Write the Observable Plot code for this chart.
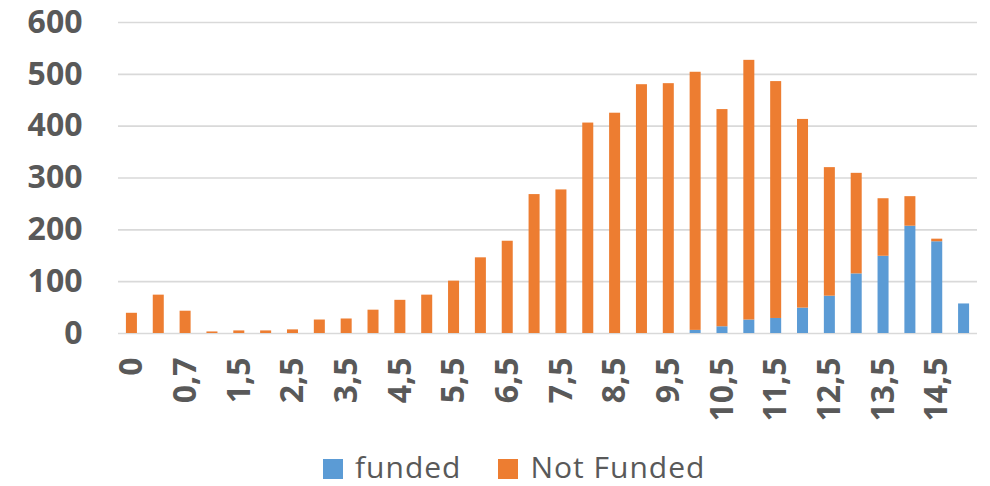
<!DOCTYPE html>
<html>
<head>
<meta charset="utf-8">
<script src="https://cdn.jsdelivr.net/npm/d3@7"></script>
<script src="https://cdn.jsdelivr.net/npm/@observablehq/plot@0.6"></script>
<style>
  html, body { margin: 0; padding: 0; background: #fff; }
  body { width: 990px; height: 486px; overflow: hidden; font-family: "Open Sans", sans-serif; }
  #legend { display: flex; align-items: center; margin-left: 323px; margin-top: 12px; font-size: 30px; letter-spacing: 1px; color: #595959; line-height: 1; }
  #legend .item { display: flex; align-items: center; margin-right: 37px; }
  #legend .sw { width: 20px; height: 20px; margin-right: 12px; margin-top: 4px; }
</style>
</head>
<body>
<div id="chart"></div>
<div id="legend"></div>
<script>
const categories = ["0","0,3","0,7","1","1,5","2","2,5","3","3,5","4","4,5","5","5,5","6","6,5","7","7,5","8","8,5","9","9,5","10","10,5","11","11,5","12","12,5","13","13,5","14","14,5","15"];
const funded = [0,0,0,0,0,0,0,0,0,0,0,0,0,0,0,0,0,0,0,0,0,6,13,26,29,49,72,115,149,207,177,57];
const notFunded = [39,74,43,3,5,5,7,26,28,45,64,74,101,146,178,268,277,406,425,480,482,498,419,501,457,364,248,194,111,57,5,0];
const seriesNames = ["funded", "Not Funded"];
const seriesColors = ["#5B9BD5", "#ED7D31"];
const yTicks = [0, 100, 200, 300, 400, 500, 600];
const xTickLabels = categories.filter((_, i) => i % 2 === 0);

const rows = [];
categories.forEach((c, i) => rows.push({cat: c, series: seriesNames[0], value: funded[i]}));
categories.forEach((c, i) => rows.push({cat: c, series: seriesNames[1], value: notFunded[i]}));

const chart = Plot.plot({
  width: 990,
  height: 440,
  marginLeft: 118,
  marginRight: 13,
  marginTop: 22,
  marginBottom: 107,
  style: {fontFamily: "Open Sans, sans-serif", color: "#595959", background: "#fff"},
  x: {domain: categories, paddingInner: 0.59, paddingOuter: 0.295, round: false, label: null},
  y: {domain: [0, 600], label: null},
  color: {domain: seriesNames, range: seriesColors},
  marks: [
    Plot.ruleY(yTicks, {stroke: "#d9d9d9", strokeWidth: 1.6}),
    Plot.barY(rows, {x: "cat", y: "value", fill: "series", order: seriesNames}),
    Plot.axisY({ticks: yTicks, tickSize: 0, tickPadding: 36, fontSize: 32, fontWeight: "bold", fill: "#595959", label: null}),
    Plot.axisX({ticks: xTickLabels, tickSize: 0, tickPadding: 24, tickRotate: -90, fontSize: 32, fontWeight: "bold", fill: "#595959", label: null})
  ]
});
document.getElementById("chart").appendChild(chart);

const legend = document.getElementById("legend");
seriesNames.forEach((name, i) => {
  const item = document.createElement("div");
  item.className = "item";
  const sw = document.createElement("span");
  sw.className = "sw";
  sw.style.background = seriesColors[i];
  const label = document.createElement("span");
  label.textContent = name;
  item.appendChild(sw);
  item.appendChild(label);
  legend.appendChild(item);
});
</script>
</body>
</html>
